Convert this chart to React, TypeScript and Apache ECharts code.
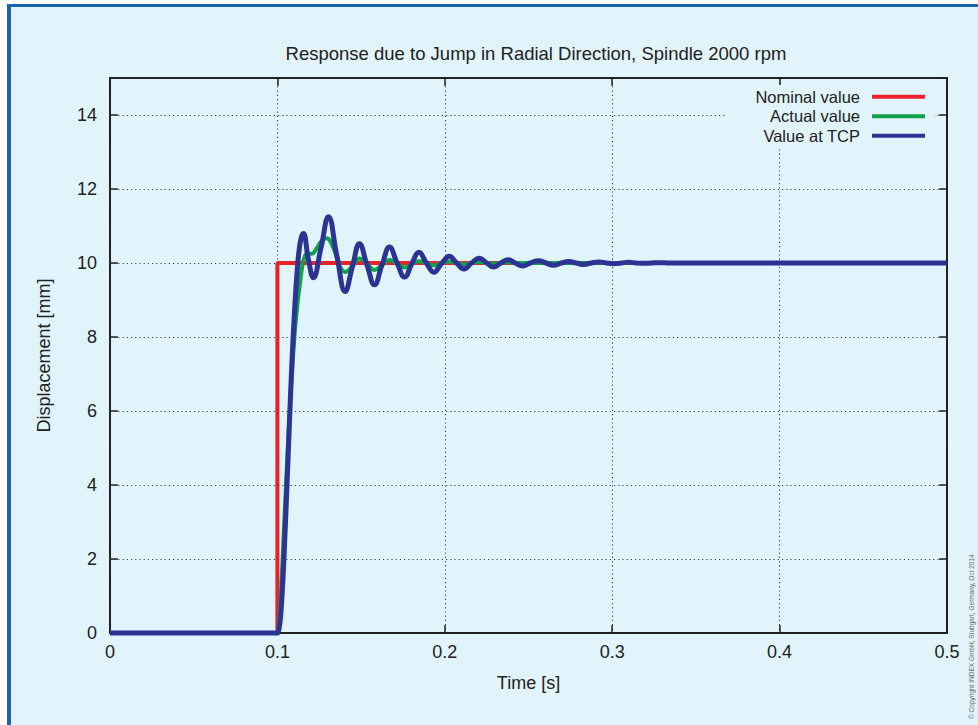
import React, { useEffect, useRef } from "react";
import * as echarts from "echarts";

const TITLE = "Response due to Jump in Radial Direction, Spindle 2000 rpm";
const X_NAME = "Time [s]";
const Y_NAME = "Displacement [mm]";
const COPYRIGHT = "© Copyright INDEX GmbH, Stuttgart, Germany, Oct 2014";
const SERIES_NAMES = ["Nominal value", "Actual value", "Value at TCP"];
const SERIES_COLORS = ["#e8212b", "#12a14b", "#2b3492"];
const SERIES_WIDTHS = [4, 4, 5];

const X_MIN = 0;
const X_MAX = 0.5;
const X_STEP = 0.1;
const Y_MIN = 0;
const Y_MAX = 15;
const Y_STEP = 2;

// [time s, displacement mm]
const nominal: [number, number][] = [
  [0, 0], [0.1, 0], [0.1, 10], [0.5, 10],
];

const actual: [number, number][] = [
  [0, 0], [0.03, 0], [0.06, 0], [0.09, 0], [0.099, 0], [0.1, 0],
  [0.101, 0.3], [0.102, 1.0], [0.103, 1.9], [0.104, 2.9], [0.106, 4.8],
  [0.108, 6.5], [0.11, 7.9], [0.112, 8.9], [0.1135, 9.45], [0.1155, 10.05],
  [0.118, 10.25], [0.1205, 10.25], [0.1235, 10.4], [0.1265, 10.6], [0.1295, 10.67],
  [0.1325, 10.5], [0.1355, 10.15], [0.138, 9.85], [0.1405, 9.76], [0.1448, 9.92],
  [0.149, 10.12], [0.1535, 9.98], [0.158, 9.81], [0.1625, 9.95], [0.167, 10.08],
  [0.1715, 9.98], [0.176, 9.88], [0.1803, 9.98], [0.1846, 10.05], [0.189, 10.0],
  [0.1935, 9.93], [0.198, 10.0], [0.2027, 10.04], [0.207, 10.0], [0.2115, 9.96],
  [0.216, 10.0], [0.2206, 10.03], [0.225, 10.0], [0.229, 9.98], [0.2335, 10.0],
  [0.238, 10.02], [0.245, 10.0], [0.27, 10], [0.3, 10], [0.35, 10], [0.4, 10],
  [0.45, 10], [0.5, 10],
];

const tcp: [number, number][] = [
  [0, 0], [0.03, 0], [0.06, 0], [0.09, 0], [0.099, 0], [0.1, 0],
  [0.101, 0.12], [0.102, 0.5], [0.103, 1.2], [0.104, 2.1], [0.106, 4.3],
  [0.108, 6.6], [0.11, 8.5], [0.112, 9.9], [0.1138, 10.6], [0.1155, 10.8],
  [0.1185, 10.1], [0.1215, 9.6], [0.126, 10.4], [0.1305, 11.25], [0.1355, 10.2],
  [0.1405, 9.23], [0.1448, 9.9], [0.149, 10.52], [0.1535, 9.95], [0.158, 9.41],
  [0.1625, 9.95], [0.167, 10.43], [0.1715, 10.0], [0.176, 9.62], [0.1803, 9.98],
  [0.1846, 10.29], [0.189, 10.0], [0.1935, 9.75], [0.198, 9.98], [0.2027, 10.18],
  [0.207, 10.0], [0.2115, 9.84], [0.216, 10.0], [0.2206, 10.13], [0.225, 10.0],
  [0.229, 9.89], [0.2335, 10.0], [0.238, 10.09], [0.242, 10.0], [0.2465, 9.92],
  [0.251, 10.0], [0.256, 10.06], [0.2605, 10.0], [0.265, 9.94], [0.2695, 10.0],
  [0.274, 10.04], [0.2785, 10.0], [0.283, 9.96], [0.2875, 10.0], [0.292, 10.03],
  [0.2965, 10.0], [0.301, 9.98], [0.3055, 10.0], [0.31, 10.02], [0.3145, 10.0],
  [0.319, 9.99], [0.3235, 10.0], [0.328, 10.01], [0.335, 10.0], [0.36, 10.0],
  [0.4, 10], [0.45, 10], [0.5, 10],
];

const SERIES_DATA = [nominal, actual, tcp];
const SERIES_SMOOTH = [false, 0.45, 0.45];

const FONT = "'Liberation Sans', Arial, Helvetica, sans-serif";
const BG = "#e1f3fb";
const FRAME = "#1c63ad";
const INK = "#222222";

export default function App() {
  const ref = useRef<HTMLDivElement>(null);

  useEffect(() => {
    if (!ref.current) return;
    const chart = echarts.init(ref.current, undefined, { renderer: "svg" });

    const axisLine = { show: true, onZero: false, lineStyle: { color: INK, width: 2 } };
    const axisTick = { show: true, inside: true, length: 8, lineStyle: { color: INK, width: 1.5 } };
    const splitLine = { show: true, lineStyle: { color: "#444444", width: 1.1, type: [1.2, 3] as any } };
    const nameTextStyle = { fontSize: 18, color: INK, fontFamily: FONT };

    chart.setOption({
      animation: false,
      backgroundColor: "#ffffff",
      title: {
        text: TITLE,
        left: 531,
        top: 39,
        textAlign: "center",
        textStyle: { fontSize: 18.5, fontWeight: "normal", color: INK, fontFamily: FONT },
      },
      grid: { left: 110, right: 31, top: 78, bottom: 92, containLabel: false },
      legend: {
        data: SERIES_NAMES,
        orient: "vertical",
        align: "right",
        right: 44,
        top: 85,
        itemWidth: 53,
        itemHeight: 4,
        itemGap: 0,
        icon: "rect",
        selectedMode: false,
        backgroundColor: BG,
        padding: [2, 9, 2, 30],
        textStyle: { fontSize: 16.5, color: INK, fontFamily: FONT, lineHeight: 19.5, padding: [0, 7, 0, 0] },
      },
      xAxis: [
        {
          type: "value",
          min: X_MIN,
          max: X_MAX,
          interval: X_STEP,
          position: "bottom",
          axisLine,
          axisTick,
          splitLine,
          axisLabel: {
            margin: 10,
            fontSize: 18,
            color: INK,
            fontFamily: FONT,
            formatter: (v: number) => (v === 0 ? "0" : v.toFixed(1)),
          },
          name: X_NAME,
          nameLocation: "middle",
          nameGap: 41,
          nameTextStyle,
        },
        {
          type: "value",
          min: X_MIN,
          max: X_MAX,
          interval: X_STEP,
          position: "top",
          axisLine,
          axisTick,
          splitLine: { show: false },
          axisLabel: { show: false },
        },
      ],
      yAxis: [
        {
          type: "value",
          min: Y_MIN,
          max: Y_MAX,
          interval: Y_STEP,
          position: "left",
          axisLine,
          axisTick,
          splitLine,
          axisLabel: {
            margin: 13,
            fontSize: 18,
            color: INK,
            fontFamily: FONT,
            showMaxLabel: false,
          },
          name: Y_NAME,
          nameLocation: "middle",
          nameGap: 57,
          nameTextStyle,
        },
        {
          type: "value",
          min: Y_MIN,
          max: Y_MAX,
          interval: Y_STEP,
          position: "right",
          axisLine,
          axisTick,
          splitLine: { show: false },
          axisLabel: { show: false },
        },
      ],
      series: SERIES_NAMES.map((name, i) => ({
        name,
        type: "line",
        xAxisIndex: 0,
        yAxisIndex: 0,
        data: SERIES_DATA[i],
        smooth: SERIES_SMOOTH[i],
        showSymbol: false,
        symbol: "none",
        clip: false,
        color: SERIES_COLORS[i],
        itemStyle: { color: SERIES_COLORS[i] },
        lineStyle: { color: SERIES_COLORS[i], width: SERIES_WIDTHS[i] },
        z: 2 + i,
      })),
      graphic: [
        {
          type: "rect",
          silent: true,
          z: -20,
          shape: { x: 7, y: 4, width: 971, height: 721 },
          style: { fill: FRAME },
        },
        {
          type: "rect",
          silent: true,
          z: -19,
          shape: { x: 11, y: 7, width: 967, height: 718 },
          style: { fill: BG },
        },
        {
          type: "text",
          silent: true,
          x: 971,
          y: 719,
          rotation: Math.PI / 2,
          style: {
            text: COPYRIGHT,
            fontSize: 6.5,
            fontFamily: FONT,
            fill: "#6a6a6a",
            align: "left",
            verticalAlign: "middle",
          },
        },
      ],
    });

    return () => chart.dispose();
  }, []);

  return (
    <div
      ref={ref}
      style={{ position: "fixed", left: 0, top: 0, width: 978, height: 725 }}
    />
  );
}
